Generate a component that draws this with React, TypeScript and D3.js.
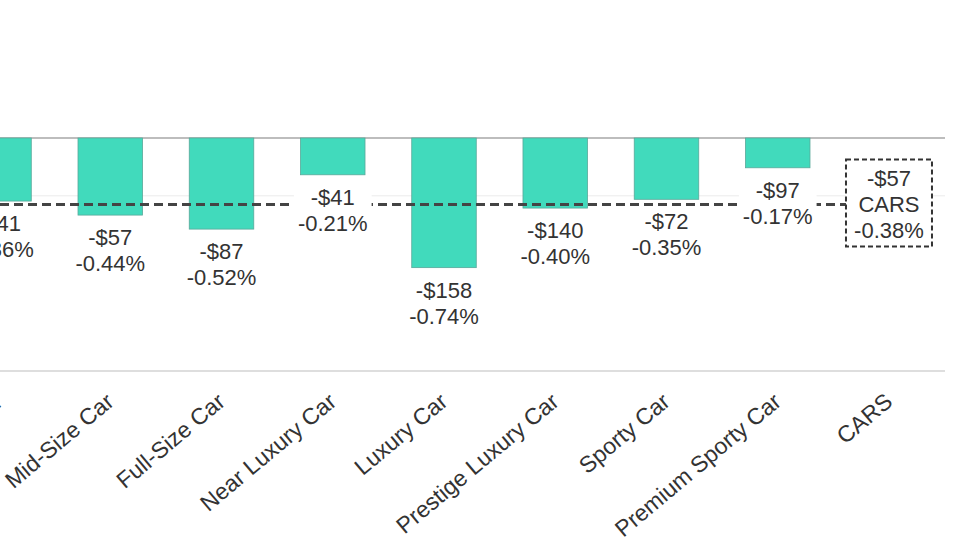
import * as d3 from "d3";
import { useRef, useEffect } from "react";

const WIDTH = 980;
const HEIGHT = 552;

// segments in chart order, the last one is the market total
const categories = [
  "Compact Car",
  "Mid-Size Car",
  "Full-Size Car",
  "Near Luxury Car",
  "Luxury Car",
  "Prestige Luxury Car",
  "Sporty Car",
  "Premium Sporty Car",
  "CARS",
];
const pctChange = [-0.36, -0.44, -0.52, -0.21, -0.74, -0.4, -0.35, -0.17];
const dollarChange = [-41, -57, -87, -41, -158, -140, -72, -97];
const totalLabel = "CARS";
const totalPct = -0.38;
const totalDollar = -57;
const gridValues = [0, -0.33];
const axisMin = -1.33;

const FONT = "'Liberation Sans', Arial, sans-serif";
const TEXT = "#333";
const BAR = "#41dabc";

const fmtDollar = (v: number) => (v < 0 ? "-$" : "$") + Math.abs(v);
const fmtPct = (v: number) => (v < 0 ? "-" : "") + Math.abs(v).toFixed(2) + "%";

export default function App() {
  const svgRef = useRef(null);

  useEffect(() => {
    const svg = d3.select(svgRef.current);
    svg.selectAll("*").remove();

    const x = d3
      .scaleBand()
      .domain(categories)
      .range([-56.6, 944.6])
      .paddingInner(0.42)
      .paddingOuter(0.21);

    const y = d3.scaleLinear().domain([0, axisMin]).range([138, 371]);

    const cx = (c: string) => x(c)! + x.bandwidth() / 2;

    svg.append("rect").attr("width", WIDTH).attr("height", HEIGHT).attr("fill", "#fff");

    // grid
    svg
      .selectAll(".grid")
      .data(gridValues)
      .enter()
      .append("line")
      .attr("x1", 0)
      .attr("x2", 945)
      .attr("y1", (d) => y(d))
      .attr("y2", (d) => y(d))
      .attr("stroke", (d) => (d === 0 ? "#bdbdbd" : "#ececec"))
      .attr("stroke-width", (d) => (d === 0 ? 2 : 1));

    // bottom axis line
    svg
      .append("line")
      .attr("x1", 0)
      .attr("x2", 945)
      .attr("y1", y(axisMin))
      .attr("y2", y(axisMin))
      .attr("stroke", "#dedede")
      .attr("stroke-width", 2);

    const segs = categories.slice(0, pctChange.length);

    // bars
    svg
      .selectAll(".bar")
      .data(segs)
      .enter()
      .append("rect")
      .attr("class", "bar")
      .attr("x", (d) => x(d)!)
      .attr("y", y(0))
      .attr("width", x.bandwidth())
      .attr("height", (_, i) => y(pctChange[i]) - y(0))
      .attr("fill", BAR)
      .attr("stroke", "#5aa89a")
      .attr("stroke-width", 0.8);

    // average line
    const boxW = 86;
    const boxH = 87;
    const totX = cx(totalLabel);
    const totY = y(totalPct);
    svg
      .append("line")
      .attr("x1", 0)
      .attr("x2", totX - boxW / 2)
      .attr("y1", totY)
      .attr("y2", totY)
      .attr("stroke", "#444")
      .attr("stroke-width", 3)
      .attr("stroke-dasharray", "9,5");

    // value labels with white backing
    segs.forEach((c, i) => {
      const g = svg
        .append("g")
        .attr("transform", `translate(${cx(c)},${y(pctChange[i]) + 30})`);
      const t = g
        .append("text")
        .attr("text-anchor", "middle")
        .attr("font-family", FONT)
        .attr("font-size", 22)
        .attr("fill", TEXT);
      t.append("tspan").attr("x", 0).attr("y", 0).text(fmtDollar(dollarChange[i]));
      t.append("tspan").attr("x", 0).attr("y", 26).text(fmtPct(pctChange[i]));
      const bb = (t.node() as SVGTextElement).getBBox();
      g.insert("rect", "text")
        .attr("x", bb.x - 4)
        .attr("y", bb.y - 3)
        .attr("width", bb.width + 8)
        .attr("height", bb.height + 6)
        .attr("fill", "#fff");
    });

    // total box
    const tg = svg.append("g").attr("transform", `translate(${totX},${totY})`);
    tg.append("rect")
      .attr("x", -boxW / 2)
      .attr("y", -45)
      .attr("width", boxW)
      .attr("height", boxH)
      .attr("fill", "#fff")
      .attr("stroke", "#333")
      .attr("stroke-width", 2)
      .attr("stroke-dasharray", "5,3");
    const tt = tg
      .append("text")
      .attr("text-anchor", "middle")
      .attr("font-family", FONT)
      .attr("font-size", 22)
      .attr("fill", TEXT);
    [fmtDollar(totalDollar), totalLabel, fmtPct(totalPct)].forEach((s, i) => {
      tt.append("tspan").attr("x", 0).attr("y", -19 + i * 26).text(s);
    });

    // category labels
    svg
      .selectAll(".cat")
      .data(categories)
      .enter()
      .append("text")
      .attr("class", "cat")
      .attr("text-anchor", "end")
      .attr("font-family", FONT)
      .attr("font-size", 23)
      .attr("fill", TEXT)
      .attr("transform", (d) => `translate(${cx(d) + 5},${y(axisMin) + 33}) rotate(-40)`)
      .text((d) => d);
  }, []);

  return (
    <svg
      ref={svgRef}
      width={WIDTH}
      height={HEIGHT}
      style={{ position: "absolute", left: 0, top: 0 }}
    />
  );
}
